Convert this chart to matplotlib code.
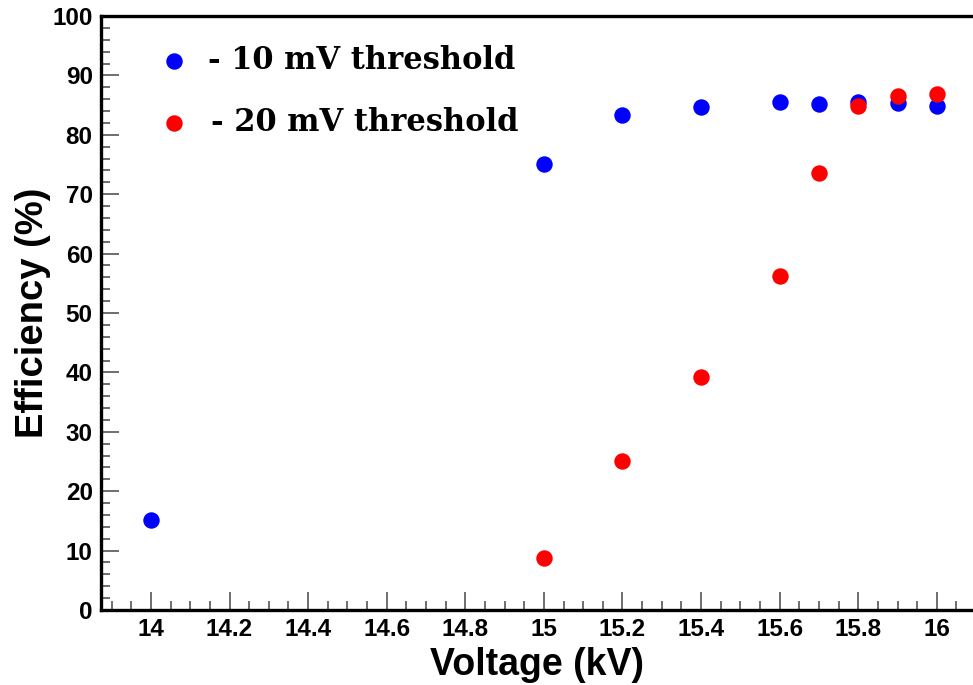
import matplotlib
matplotlib.use("Agg")
from matplotlib import pyplot as plt
from matplotlib.ticker import MultipleLocator

# voltage (kV) and efficiency (%)
volt_10mv = [14.0, 15.0, 15.2, 15.4, 15.6, 15.7, 15.8, 15.9, 16.0]
eff_10mv = [15.1, 75.0, 83.3, 84.7, 85.5, 85.2, 85.5, 85.3, 84.8]

volt_20mv = [15.0, 15.2, 15.4, 15.6, 15.7, 15.8, 15.9, 16.0]
eff_20mv = [8.7, 25.1, 39.3, 56.2, 73.6, 84.9, 86.6, 86.9]

label_10mv = "- 10 mV threshold"
label_20mv = "- 20 mV threshold"

fig = plt.figure(figsize=(9.73, 6.85), dpi=100)
ax = fig.add_axes([101 / 973, 75 / 685, 872 / 973, 594 / 685])

ax.scatter(volt_10mv, eff_10mv, s=140, color="#0000ff", zorder=3, linewidths=0)
ax.scatter(volt_20mv, eff_20mv, s=140, color="#ff0000", zorder=4, linewidths=0)

ax.set_xlim(13.873, 16.092)
ax.set_ylim(0, 100)

ax.xaxis.set_major_locator(MultipleLocator(0.2))
ax.xaxis.set_minor_locator(MultipleLocator(0.05))
ax.yaxis.set_major_locator(MultipleLocator(10))
ax.yaxis.set_minor_locator(MultipleLocator(2))

ax.xaxis.set_major_formatter(plt.FuncFormatter(lambda v, p: "%g" % round(v, 2)))

ax.tick_params(which="both", direction="in", top=False, right=False, color="#555555", width=1.2)
ax.tick_params(which="major", length=13)
ax.tick_params(which="minor", length=6.5)
ax.tick_params(axis="both", which="major", labelsize=17.5, pad=6)
for lab in ax.get_xticklabels() + ax.get_yticklabels():
    lab.set_fontfamily("Liberation Sans")
    lab.set_fontweight("bold")

ax.spines["right"].set_visible(False)
for s in ["left", "bottom", "top"]:
    ax.spines[s].set_linewidth(2.4)

ax.set_xlabel("Voltage (kV)", fontsize=27, fontweight="bold", family="Liberation Sans", labelpad=4)
ax.set_ylabel("Efficiency (%)", fontsize=27.5, fontweight="bold", family="Liberation Sans", labelpad=1)

# legend drawn by hand in the upper left
ax.scatter([14.06], [92.5], s=140, color="#0000ff", linewidths=0, clip_on=False)
ax.scatter([14.06], [82.0], s=140, color="#ff0000", linewidths=0, clip_on=False)
ax.text(14.145, 92.5, label_10mv, fontsize=22, fontweight="bold", family="DejaVu Serif", va="center")
ax.text(14.152, 82.0, label_20mv, fontsize=22, fontweight="bold", family="DejaVu Serif", va="center")

fig.savefig("out.png", dpi=100)
